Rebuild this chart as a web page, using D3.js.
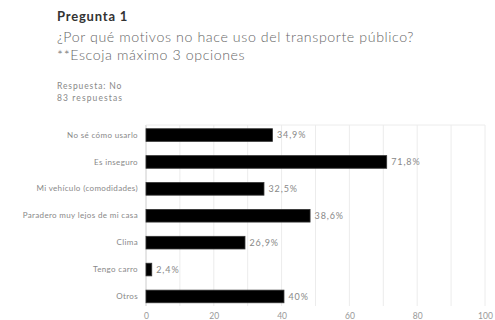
<!DOCTYPE html>
<html><head><meta charset="utf-8">
<script src="https://cdn.jsdelivr.net/npm/d3@7"></script>
<style>body{margin:0;background:#fff}svg{display:block}</style>
</head><body>
<svg id="c" width="495" height="320"></svg>
<script>
const categories = ["No sé cómo usarlo","Es inseguro","Mi vehículo (comodidades)","Paradero muy lejos de mi casa","Clima","Tengo carro","Otros"];
const values = [37.3, 71.0, 34.8, 48.4, 29.2, 1.7, 40.7];
const valueLabels = ["34,9%","71,8%","32,5%","38,6%","26,9%","2,4%","40%"];
const ticks = [0, 20, 40, 60, 80, 100];
const title = "Pregunta 1";
const question = "¿Por qué motivos no hace uso del transporte público?";
const note = "**Escoja máximo 3 opciones";
const sub1 = "Respuesta: No";
const sub2 = "83 respuestas";

const svg = d3.select("#c");
const font = "Lato, 'Open Sans', sans-serif";
const x = d3.scaleLinear().domain([0,100]).range([146,485]);
const y = d3.scaleBand().domain(categories).range([121.6,309.9]).paddingInner(0.53).paddingOuter(0.265);

svg.append("text").attr("x",57).attr("y",21).attr("font-family",font).attr("font-weight","bold")
  .attr("font-size",13).attr("letter-spacing",0.8).attr("fill","#333").text(title);
svg.append("text").attr("x",57).attr("y",42).attr("font-family",font).attr("font-weight",300)
  .attr("font-size",14.2).attr("letter-spacing",0.6).attr("fill","#666").text(question);
svg.append("text").attr("x",57).attr("y",59.5).attr("font-family",font).attr("font-weight",300)
  .attr("font-size",14.2).attr("letter-spacing",0.6).attr("fill","#666").text(note);
svg.append("text").attr("x",57).attr("y",89).attr("font-family",font)
  .attr("font-size",8.5).attr("letter-spacing",0.9).attr("fill","#888").text(sub1);
svg.append("text").attr("x",57).attr("y",100.5).attr("font-family",font)
  .attr("font-size",8.5).attr("letter-spacing",1.1).attr("fill","#888").text(sub2);

// grid
const minor = d3.range(0,101,10);
svg.append("g").selectAll("line").data(minor).join("line")
  .attr("x1",d=>x(d)).attr("x2",d=>x(d)).attr("y1",125).attr("y2",306)
  .attr("stroke",d=>d===0?"#ccc":"#ececec").attr("stroke-width",1);
svg.append("line").attr("x1",x(0)).attr("x2",x(100)).attr("y1",125).attr("y2",125)
  .attr("stroke","#ececec");

// x axis
const xAxis = d3.axisBottom(x).tickValues(ticks).tickSize(0).tickPadding(0);
const gx = svg.append("g").attr("transform","translate(0,311)").call(xAxis);
gx.select(".domain").remove();
gx.selectAll("text").attr("font-family",font).attr("font-size",8.5).attr("fill","#999").attr("dy","0.9em");

// y axis
const yAxis = d3.axisLeft(y).tickSize(0).tickPadding(8);
const gy = svg.append("g").attr("transform",`translate(${x(0)},0)`).call(yAxis);
gy.select(".domain").remove();
gy.selectAll("text").attr("font-family",font).attr("font-size",8).attr("letter-spacing",0.35).attr("fill","#888");

// bars
svg.append("g").selectAll("rect").data(values).join("rect")
  .attr("x",x(0)).attr("y",(d,i)=>y(categories[i]))
  .attr("width",d=>x(d)-x(0)).attr("height",y.bandwidth())
  .attr("fill","#000").attr("stroke","#333").attr("stroke-width",0.8);

svg.append("g").selectAll("text").data(values).join("text")
  .attr("x",d=>x(d)+4.5).attr("y",(d,i)=>y(categories[i])+y.bandwidth()/2)
  .attr("dy","0.35em").attr("font-family",font).attr("font-size",9).attr("letter-spacing",0.9).attr("fill","#888")
  .text((d,i)=>valueLabels[i]);
</script>
</body></html>
